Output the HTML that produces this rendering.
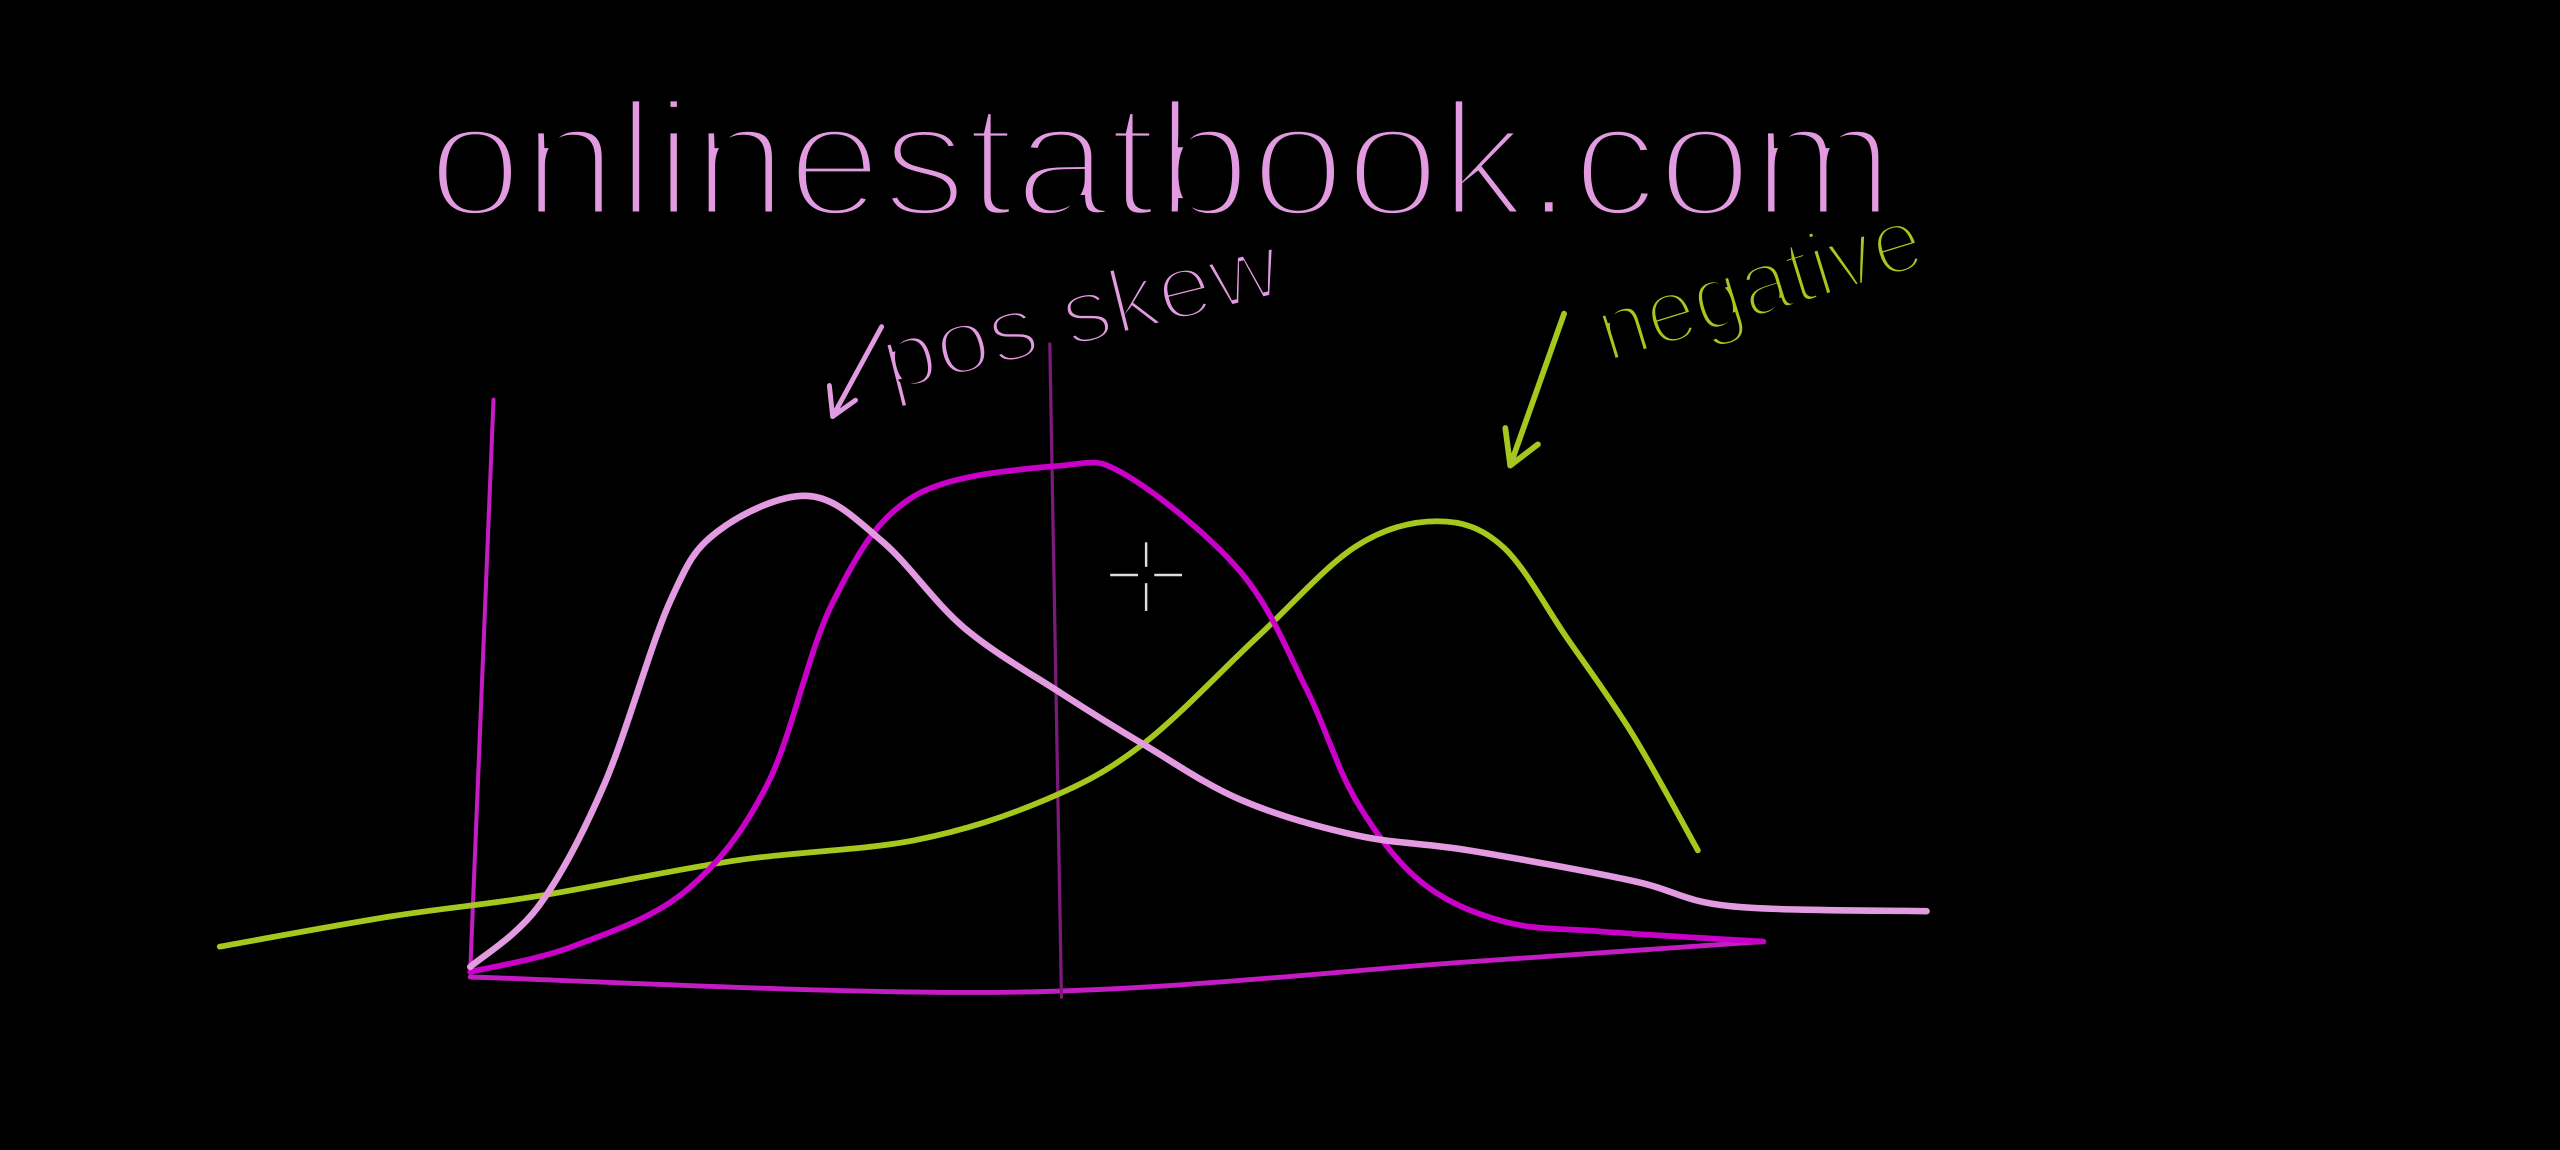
<!DOCTYPE html>
<html><head><meta charset="utf-8"><style>
html,body{margin:0;padding:0;background:#000;width:2560px;height:1150px;overflow:hidden}
svg{display:block}
text{font-family:"Liberation Sans",sans-serif;font-weight:normal}
</style></head><body>
<svg id="chart" width="2560" height="1150" viewBox="0 0 1568 704" preserveAspectRatio="none">
<rect x="0" y="0" width="1568" height="704" fill="#000"/>
<text x="262" y="132" font-size="100" fill="#e29be0" textLength="898" lengthAdjust="spacingAndGlyphs" stroke="#000" stroke-width="5">onlinestatbook.com</text>
<text x="545" y="240" font-size="56" fill="#e29be0" textLength="250" lengthAdjust="spacingAndGlyphs" transform="rotate(-14 545 240)" stroke="#000" stroke-width="3">pos skew</text>
<text x="985" y="222" font-size="56" fill="#a6c81e" textLength="205" lengthAdjust="spacingAndGlyphs" transform="rotate(-17 985 222)" stroke="#000" stroke-width="3">negative</text>
<path d="M540 200 L510 255 M510 255 L508 236 M510 255 L524 245" stroke="#e29be0" stroke-width="3" fill="none" stroke-linecap="round"/>
<path d="M958 192 L925 285 M925 285 L922 262 M925 285 L942 272" stroke="#a6c81e" stroke-width="3.5" fill="none" stroke-linecap="round"/>
<g id="marks"></g>
<g stroke="#ddd" stroke-width="1.5">
<line x1="680" y1="352" x2="697" y2="352"/><line x1="707" y1="352" x2="724" y2="352"/>
<line x1="702" y1="332" x2="702" y2="347"/><line x1="702" y1="357" x2="702" y2="374"/>
</g>
</svg>
<script>
// data (x in 0..100 domain, y density 0..1)
const posX = [0,4.7,9.2,13.7,17,23.2,28.3,33.9,40.6,46.2,52.9,60.8,68.6,79.8,86.5,100];
const posY = [0.01,0.13,0.37,0.73,0.87,0.94,0.85,0.68,0.55,0.45,0.34,0.27,0.24,0.18,0.13,0.12];
const normX = [0,7,14.8,20.4,24.9,30.5,40.6,45.1,52.9,57.4,60.8,65.2,70.9,77.6,88.8];
const normY = [0,0.05,0.16,0.37,0.73,0.94,1.0,0.98,0.79,0.56,0.34,0.18,0.1,0.08,0.06];
const negX = [-17.2,-5.4,4.7,18.2,30.5,39.5,46.2,54,60.8,66.4,70.9,75.3,79.8,84.3];
const negY = [0.05,0.11,0.15,0.22,0.26,0.34,0.45,0.66,0.84,0.89,0.84,0.66,0.47,0.24];
const axisX = [0,37.2,68.6,88.8];
const axisY = [-0.01,-0.04,0.02,0.06];
const meanX = 39.8;

const sx = v => 288 + v * 8.92;
const sy = v => 595 - v * 310;
function smooth(xs, ys){
  const p = xs.map((x,i)=>[sx(x), sy(ys[i])]);
  let d = `M${p[0][0]},${p[0][1]}`;
  for(let i=0;i<p.length-1;i++){
    const p0=p[i-1]||p[i], p1=p[i], p2=p[i+1], p3=p[i+2]||p2;
    const c1=[p1[0]+(p2[0]-p0[0])/6, p1[1]+(p2[1]-p0[1])/6];
    const c2=[p2[0]-(p3[0]-p1[0])/6, p2[1]-(p3[1]-p1[1])/6];
    d+=` C${c1[0]},${c1[1]} ${c2[0]},${c2[1]} ${p2[0]},${p2[1]}`;
  }
  return d;
}
const NS="http://www.w3.org/2000/svg", g=document.getElementById('marks');
function addPath(d,color,w,name){
  const el=document.createElementNS(NS,'path');
  el.setAttribute('d',d);el.setAttribute('stroke',color);el.setAttribute('stroke-width',w);
  el.setAttribute('fill','none');el.setAttribute('stroke-linecap','round');el.setAttribute('stroke-linejoin','round');
  
  
  g.appendChild(el);
}
addPath(`M${sx(1.6)},${sy(1.13)} L${sx(0)},${sy(0)}`,'#c21cc2',2.5,'y-axis');
addPath(smooth(axisX,axisY),'#c21cc2',3,'x-axis');
addPath(`M${sx(meanX)},${sy(1.24)} L${sx(meanX+0.8)},${sy(-0.05)}`,'#7a1a7a',2,'mean-line');
addPath(smooth(negX,negY),'#a6c81e',3.5,'negative-skew-curve');
addPath(smooth(normX,normY),'#c800c8',3.5,'normal-curve');
addPath(smooth(posX,posY),'#e29be0',4,'positive-skew-curve');
</script>
</body></html>
